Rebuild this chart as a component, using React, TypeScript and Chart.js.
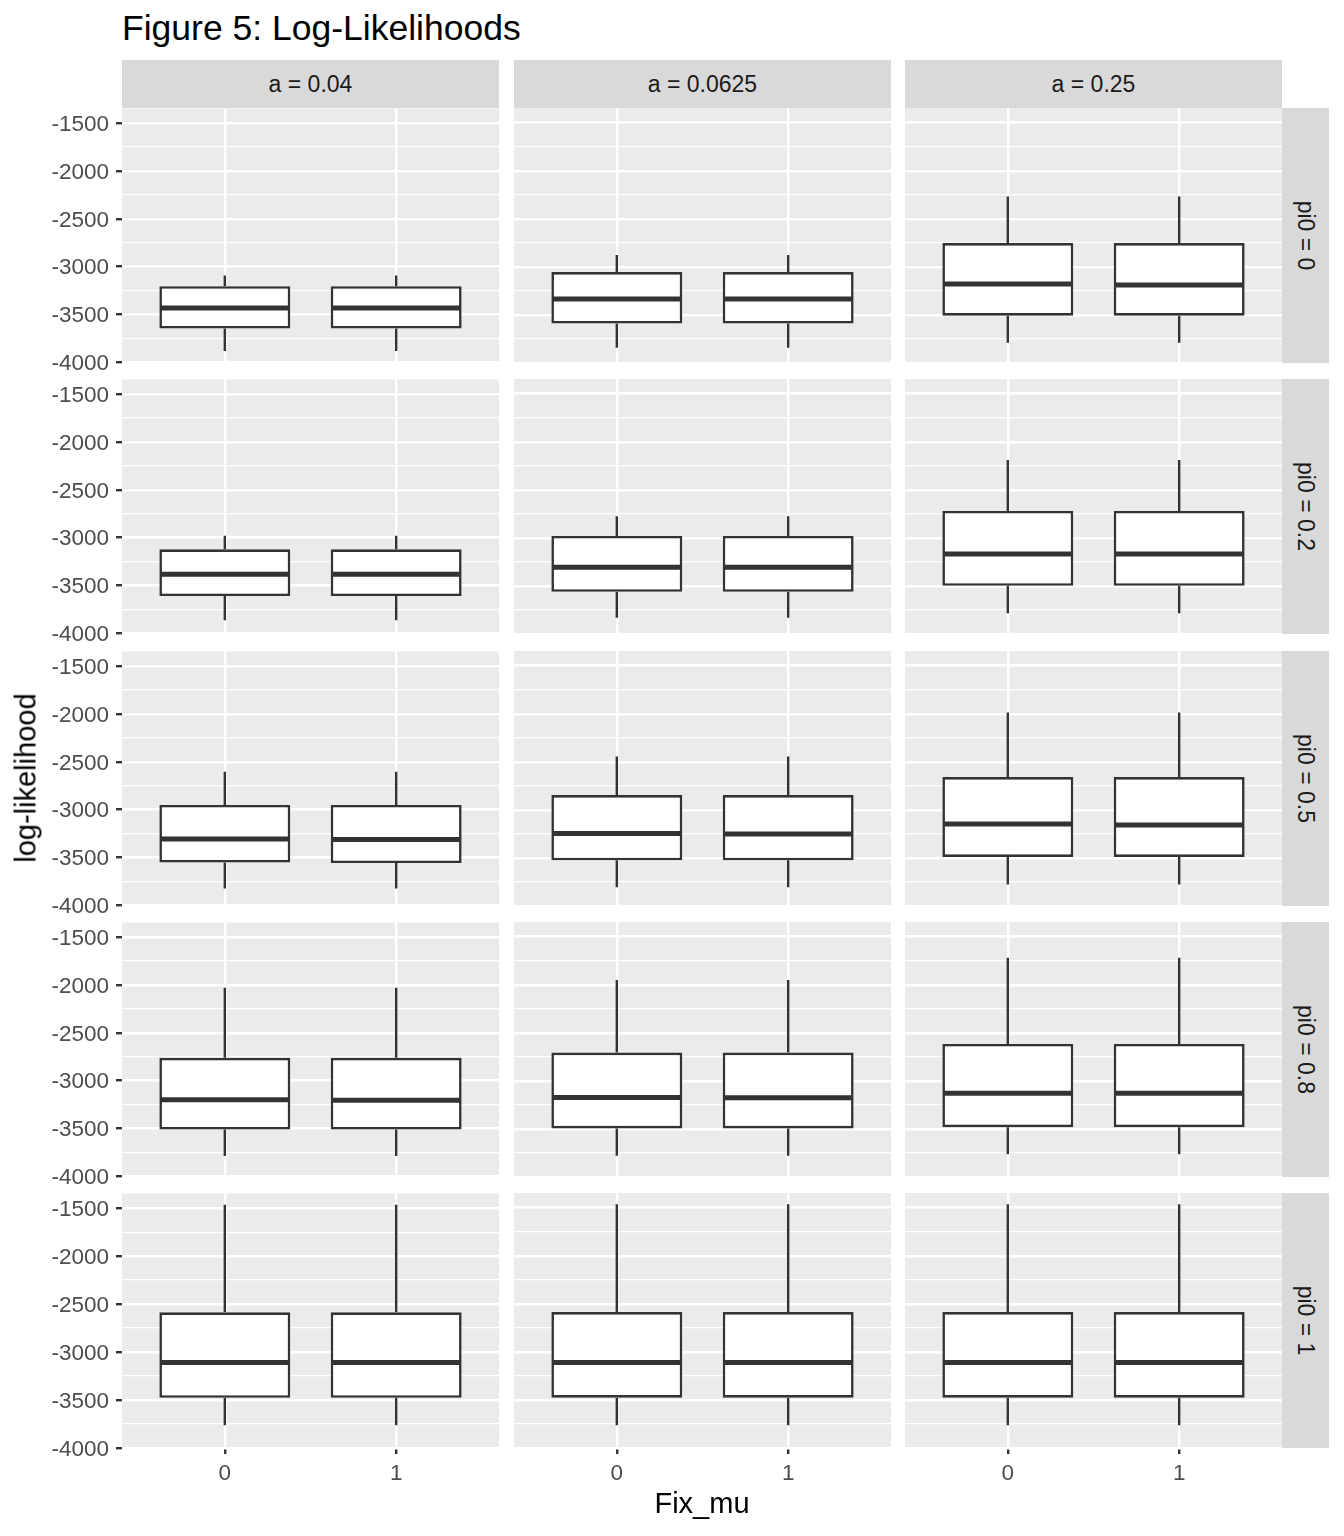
import React, { useEffect, useRef } from 'react';
import { Chart, registerables } from 'chart.js';

Chart.register(...registerables);

// ---------------- data ----------------
const titleText = 'Figure 5: Log-Likelihoods';
const xAxisTitle = 'Fix_mu';
const yAxisTitle = 'log-likelihood';
const aLabels = ['a = 0.04', 'a = 0.0625', 'a = 0.25'];
const pi0Labels = ['pi0 = 0', 'pi0 = 0.2', 'pi0 = 0.5', 'pi0 = 0.8', 'pi0 = 1'];
const fixMuValues = [0, 1];
const yMajorTicks = [-4000, -3500, -3000, -2500, -2000, -1500];
const yMinorTicks = [-3750, -3250, -2750, -2250, -1750];
const yLimits = [-4002, -1347];
const xLimits = [-0.6, 1.6];

// indexed [pi0 row][a column][Fix_mu]
const upperWhisker = [
  [[-3093, -3093], [-2878, -2878], [-2269, -2269]],
  [[-2981, -2981], [-2776, -2776], [-2191, -2191]],
  [[-2605, -2605], [-2446, -2446], [-1988, -1988]],
  [[-2028, -2028], [-1952, -1952], [-1719, -1719]],
  [[-1465, -1465], [-1465, -1465], [-1465, -1465]],
];
const upperQuartile = [
  [[-3204, -3204], [-3055, -3055], [-2753, -2753]],
  [[-3122, -3122], [-2981, -2981], [-2721, -2721]],
  [[-2951, -2951], [-2847, -2847], [-2660, -2660]],
  [[-2762, -2762], [-2707, -2707], [-2617, -2617]],
  [[-2587, -2587], [-2587, -2587], [-2587, -2587]],
];
const medianValue = [
  [[-3433, -3433], [-3335, -3335], [-3179, -3190]],
  [[-3382, -3382], [-3306, -3306], [-3168, -3168]],
  [[-3308, -3312], [-3246, -3253], [-3148, -3159]],
  [[-3199, -3205], [-3174, -3176], [-3129, -3129]],
  [[-3111, -3111], [-3111, -3111], [-3111, -3111]],
];
const lowerQuartile = [
  [[-3647, -3647], [-3592, -3592], [-3509, -3509]],
  [[-3611, -3611], [-3563, -3563], [-3500, -3500]],
  [[-3553, -3558], [-3526, -3526], [-3491, -3491]],
  [[-3511, -3511], [-3496, -3496], [-3483, -3483]],
  [[-3478, -3478], [-3478, -3478], [-3478, -3478]],
];
const lowerWhisker = [
  [[-3883, -3883], [-3844, -3844], [-3792, -3792]],
  [[-3864, -3864], [-3833, -3833], [-3787, -3787]],
  [[-3823, -3823], [-3807, -3807], [-3779, -3779]],
  [[-3787, -3787], [-3781, -3781], [-3766, -3766]],
  [[-3765, -3765], [-3765, -3765], [-3765, -3765]],
];

// ---------------- layout & style ----------------
const FONT = '"Liberation Sans", Arial, Helvetica, sans-serif';
const INK = '#333333';
const PANEL_BG = '#EBEBEB';
const STRIP_BG = '#D9D9D9';
const TICK_TEXT = '#4D4D4D';
const STRIP_TEXT = '#1A1A1A';
const COL_LEFT = [122, 514, 905];
const ROW_TOP = [108, 379, 651, 922, 1193];
const PANEL_W = 377;
const PANEL_H = 255;
const PAD = 20;
const Y_AXIS_W = 122;
const X_AXIS_H = 50;
const BOX_WIDTH = 0.75;
const TICK_FONT = 22.5;

const yAllTicks = [...yMajorTicks, ...yMinorTicks].sort((a, b) => a - b);

const panelBackground = {
  id: 'panelBackground',
  beforeDraw(chart: any) {
    const { ctx, chartArea: a } = chart;
    ctx.save();
    ctx.fillStyle = PANEL_BG;
    ctx.fillRect(a.left, a.top, a.right - a.left, a.bottom - a.top);
    ctx.restore();
  },
};

function Panel({ row, col }: { row: number; col: number }) {
  const ref = useRef<HTMLCanvasElement>(null);
  const showY = col === 0;
  const showX = row === ROW_TOP.length - 1;
  const left = showY ? COL_LEFT[col] - Y_AXIS_W : COL_LEFT[col] - PAD;
  const top = ROW_TOP[row] - PAD;
  const width = (showY ? Y_AXIS_W : PAD) + PANEL_W + PAD;
  const height = PAD + PANEL_H + (showX ? X_AXIS_H : PAD);

  useEffect(() => {
    const canvas = ref.current;
    if (!canvas) return;
    const boxes = fixMuValues.map((x, k) => ({
      x,
      y: [lowerQuartile[row][col][k], upperQuartile[row][col][k]],
    }));
    const whiskers: any[] = [];
    fixMuValues.forEach((x, k) => {
      whiskers.push(
        { x, y: upperWhisker[row][col][k] },
        { x, y: upperQuartile[row][col][k] },
        { x, y: null },
        { x, y: lowerQuartile[row][col][k] },
        { x, y: lowerWhisker[row][col][k] },
        { x, y: null }
      );
    });
    const medians: any[] = [];
    fixMuValues.forEach((x, k) => {
      medians.push(
        { x: x - BOX_WIDTH / 2, y: medianValue[row][col][k] },
        { x: x + BOX_WIDTH / 2, y: medianValue[row][col][k] },
        { x: x + BOX_WIDTH / 2, y: null }
      );
    });
    const isMajor = (v: number) => yMajorTicks.includes(v);

    const chart = new Chart(canvas, {
      type: 'line',
      data: {
        datasets: [
          {
            type: 'line',
            data: medians,
            borderColor: INK,
            borderWidth: 5,
            pointRadius: 0,
            spanGaps: false,
            borderCapStyle: 'butt',
            order: 1,
          } as any,
          {
            type: 'bar',
            data: boxes,
            backgroundColor: '#FFFFFF',
            borderColor: INK,
            borderWidth: 2.6,
            borderSkipped: false,
            categoryPercentage: 1,
            barPercentage: BOX_WIDTH + 0.014,
            order: 2,
          } as any,
          {
            type: 'line',
            data: whiskers,
            borderColor: INK,
            borderWidth: 2.4,
            pointRadius: 0,
            spanGaps: false,
            borderCapStyle: 'butt',
            order: 3,
          } as any,
        ],
      },
      options: {
        responsive: false,
        animation: false,
        devicePixelRatio: 1,
        events: [],
        layout: {
          autoPadding: false,
          padding: { left: showY ? 0 : PAD, right: PAD, top: PAD, bottom: showX ? 0 : PAD },
        },
        plugins: {
          legend: { display: false },
          tooltip: { enabled: false },
          title: { display: false },
        },
        scales: {
          x: {
            type: 'linear',
            min: xLimits[0],
            max: xLimits[1],
            offset: false,
            afterBuildTicks: (s: any) => {
              s.ticks = fixMuValues.map((v) => ({ value: v }));
            },
            afterFit: (s: any) => {
              s.height = showX ? X_AXIS_H : 0;
            },
            ticks: {
              display: showX,
              autoSkip: false,
              maxRotation: 0,
              padding: 6,
              color: TICK_TEXT,
              font: { family: FONT, size: TICK_FONT },
              callback: (v: any) => String(v),
            },
            grid: {
              offset: false,
              color: '#FFFFFF',
              lineWidth: 2.4,
              drawTicks: showX,
              tickLength: 6,
              tickColor: INK,
              tickWidth: 2.4,
            },
            border: { display: false },
          },
          y: {
            type: 'linear',
            min: yLimits[0],
            max: yLimits[1],
            afterBuildTicks: (s: any) => {
              s.ticks = yAllTicks.map((v) => ({ value: v }));
            },
            afterFit: (s: any) => {
              s.width = showY ? Y_AXIS_W : 0;
            },
            ticks: {
              display: showY,
              autoSkip: false,
              padding: 7,
              labelOffset: 1.5,
              color: TICK_TEXT,
              font: { family: FONT, size: TICK_FONT },
              callback: (v: any) => (isMajor(v) ? String(v) : ''),
            },
            grid: {
              color: '#FFFFFF',
              lineWidth: (ctx: any) => (ctx.tick && isMajor(ctx.tick.value) ? 2.4 : 1.2),
              drawTicks: showY,
              tickLength: 6,
              tickColor: (ctx: any) => (ctx.tick && isMajor(ctx.tick.value) ? INK : 'rgba(0,0,0,0)'),
              tickWidth: 2.4,
            },
            border: { display: false },
          },
        },
      } as any,
      plugins: [panelBackground],
    });
    return () => chart.destroy();
  }, [row, col]);

  return (
    <canvas
      ref={ref}
      width={width}
      height={height}
      style={{ position: 'absolute', left, top, width, height }}
    />
  );
}

export default function App() {
  const stripStyle: React.CSSProperties = {
    position: 'absolute',
    background: STRIP_BG,
    color: STRIP_TEXT,
    fontSize: 23,
    display: 'flex',
    alignItems: 'center',
    justifyContent: 'center',
    whiteSpace: 'nowrap',
  };
  return (
    <div
      style={{
        position: 'absolute',
        left: 0,
        top: 0,
        width: 1344,
        height: 1536,
        background: '#FFFFFF',
        fontFamily: FONT,
        overflow: 'hidden',
      }}
    >
      <div
        style={{
          position: 'absolute',
          left: 122,
          top: 10,
          fontSize: 35.5,
          lineHeight: '36px',
          color: '#000000',
          whiteSpace: 'nowrap',
        }}
      >
        {titleText}
      </div>
      {aLabels.map((lab, c) => (
        <div key={lab} style={{ ...stripStyle, left: COL_LEFT[c], top: 60, width: PANEL_W, height: 48 }}>
          {lab}
        </div>
      ))}
      {pi0Labels.map((lab, r) => (
        <div key={lab} style={{ ...stripStyle, left: 1282, top: ROW_TOP[r], width: 47, height: PANEL_H }}>
          <span style={{ display: 'inline-block', transform: 'rotate(90deg)' }}>{lab}</span>
        </div>
      ))}
      {pi0Labels.map((_, r) =>
        aLabels.map((__, c) => <Panel key={`${r}-${c}`} row={r} col={c} />)
      )}
      <div
        style={{
          position: 'absolute',
          left: 122,
          width: 1160,
          top: 1489,
          fontSize: 29,
          lineHeight: '29px',
          textAlign: 'center',
          color: '#000000',
        }}
      >
        {xAxisTitle}
      </div>
      <div
        style={{
          position: 'absolute',
          left: 26,
          top: 778,
          fontSize: 29,
          lineHeight: '29px',
          color: '#000000',
          whiteSpace: 'nowrap',
          transform: 'translate(-50%, -50%) rotate(-90deg)',
        }}
      >
        {yAxisTitle}
      </div>
    </div>
  );
}
